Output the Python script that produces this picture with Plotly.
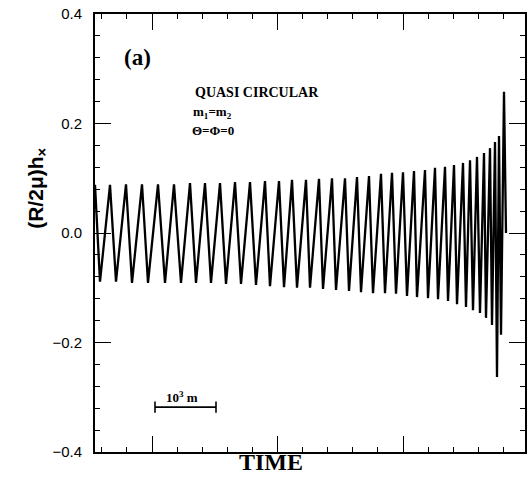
import plotly.graph_objects as go

# Extrema of the waveform.
# time: in units where the "10^3 m" scale bar spans 61 units (x axis 0..430)
time = [0, 5, 15, 21, 31, 37, 47, 53, 63, 70, 79, 86, 95, 101, 110, 116, 125, 131,
        140, 146, 155, 161, 170, 175, 184, 189, 197, 202, 211, 215, 224, 228, 237, 241,
        250, 254, 262, 266, 274, 278, 286, 290, 297, 301, 308, 312, 319, 322, 330, 333,
        340, 343, 350, 353, 359, 362, 368, 371, 375, 378, 382, 385, 389, 391, 395, 397,
        400, 402, 404, 406, 409, 411]
hx = [0.088, -0.089, 0.088, -0.089, 0.089, -0.091, 0.089, -0.091, 0.089, -0.091,
      0.089, -0.091, 0.091, -0.091, 0.091, -0.091, 0.091, -0.093, 0.093, -0.093,
      0.093, -0.095, 0.095, -0.097, 0.095, -0.099, 0.097, -0.100, 0.097, -0.100,
      0.099, -0.102, 0.100, -0.104, 0.100, -0.106, 0.102, -0.108, 0.104, -0.110,
      0.108, -0.110, 0.110, -0.111, 0.111, -0.115, 0.113, -0.117, 0.115, -0.119,
      0.119, -0.121, 0.121, -0.124, 0.124, -0.130, 0.128, -0.135, 0.133, -0.141,
      0.139, -0.146, 0.146, -0.155, 0.155, -0.168, 0.166, -0.263, 0.177, -0.186,
      0.258, 0.0]

scalebar_t = [60, 121]
scalebar_y = [-0.318, -0.318]

y_tickvals = [-0.4, -0.2, 0.0, 0.2, 0.4]
y_ticktext = ["\u22120.4", "\u22120.2", "0.0", "0.2", "0.4"]

fig = go.Figure()
fig.add_trace(go.Scatter(x=time, y=hx, mode="lines",
                         line=dict(color="black", width=2.3), hoverinfo="skip"))
fig.add_trace(go.Scatter(x=scalebar_t, y=scalebar_y, mode="lines+markers",
                         line=dict(color="black", width=1.6),
                         marker=dict(symbol="line-ns", size=8,
                                     line=dict(color="black", width=1.6)),
                         hoverinfo="skip"))

serif = "Liberation Serif"
sans = "Liberation Sans"

fig.update_layout(
    width=530, height=490,
    margin=dict(l=95, r=5, t=14, b=38, autoexpand=False),
    paper_bgcolor="white", plot_bgcolor="white",
    showlegend=False,
    xaxis=dict(range=[0, 430], showgrid=False, zeroline=False, automargin=False,
               showline=True, linecolor="black", linewidth=2, mirror="ticks",
               ticks="inside", ticklen=16, tickwidth=1.4, tickcolor="black",
               tick0=57, dtick=125.5, showticklabels=False,
               minor=dict(ticks="inside", ticklen=5, tickwidth=1.2, tickcolor="black",
                          tick0=6.8, dtick=25.1)),
    yaxis=dict(range=[-0.4, 0.4], showgrid=False, zeroline=False, automargin=False,
               showline=True, linecolor="black", linewidth=2, mirror="ticks",
               ticks="inside", ticklen=16, tickwidth=1.4, tickcolor="black",
               tickvals=y_tickvals, ticktext=y_ticktext,
               tickfont=dict(family=sans, size=15, color="black"),
               ticklabelstandoff=8, ticklabeloverflow="allow",
               minor=dict(ticks="inside", ticklen=5, tickwidth=1.2, tickcolor="black",
                          tick0=0, dtick=0.04)),
    annotations=[
        dict(text="<b>(a)</b>", x=0.063, y=0.934, xref="paper", yref="paper",
             showarrow=False, font=dict(family=serif, size=23, color="black")),
        dict(text="<b>QUASI CIRCULAR</b>", x=0.228, y=0.842, xref="paper", yref="paper",
             showarrow=False, font=dict(family=serif, size=14, color="black")),
        dict(text="<b>m<sub>1</sub>=m<sub>2</sub></b>", x=0.223, y=0.800,
             xref="paper", yref="paper",
             showarrow=False, font=dict(family=serif, size=13, color="black")),
        dict(text="<b>\u0398=\u03a6=0</b>", x=0.221, y=0.755, xref="paper", yref="paper",
             showarrow=False, font=dict(family=serif, size=13, color="black")),
        dict(text="<b>10<sup>3</sup> m</b>", x=87, y=-0.300, xref="x", yref="y",
             showarrow=False, font=dict(family=serif, size=13, color="black")),
        dict(text="<b>(R/2\u03bc)h<sub>\u00d7</sub></b>", x=-0.170, y=0.603,
             xref="paper", yref="paper", textangle=-90,
             showarrow=False, font=dict(family=sans, size=21, color="black")),
        dict(text="<b>TIME</b>", x=0.409, y=-0.057, xref="paper", yref="paper",
             showarrow=False, font=dict(family=serif, size=24, color="black")),
    ],
)

post = ("document.body.style.margin='0';document.body.style.padding='0';"
        "document.body.style.overflow='hidden';"
        "var gd=document.getElementById('{plot_id}');"
        "if(window.Plotly&&gd){Plotly.relayout(gd,{width:530,height:490});}")

fig.write_html("out.html", post_script=post, config={"displayModeBar": False})
